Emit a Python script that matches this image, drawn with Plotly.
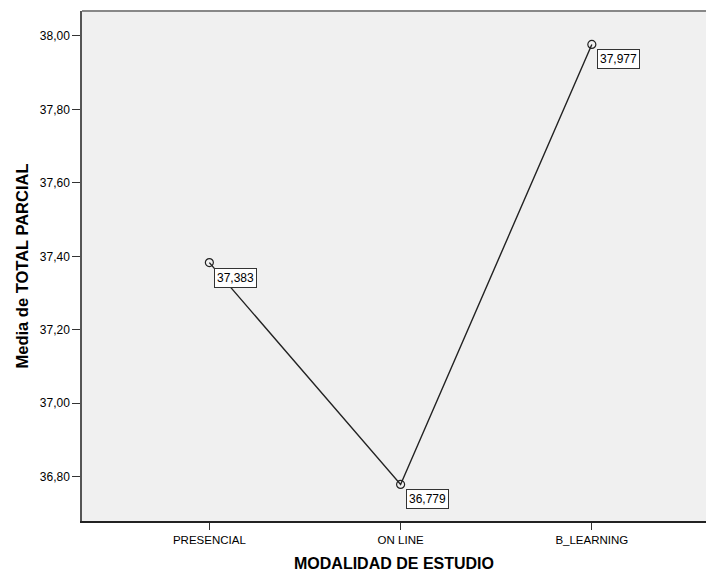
import plotly.graph_objects as go

categories = ["PRESENCIAL", "ON LINE", "B_LEARNING"]
means = [37.383, 36.779, 37.977]
labels = ["37,383", "36,779", "37,977"]
y_ticks = [36.80, 37.00, 37.20, 37.40, 37.60, 37.80, 38.00]

FONT = "Liberation Sans, Arial, sans-serif"

fig = go.Figure()
fig.add_trace(go.Scatter(
    x=[0, 1, 2], y=means, mode="lines+markers",
    line=dict(color="#222222", width=1.4),
    marker=dict(symbol="circle-open", size=8, color="#222222", line=dict(width=1.2)),
    hoverinfo="skip", showlegend=False,
))

for i, (v, t) in enumerate(zip(means, labels)):
    fig.add_annotation(
        x=i, y=v, text=t, showarrow=False,
        xanchor="left", yanchor="top", xshift=5, yshift=-5,
        bgcolor="white", bordercolor="#333333", borderwidth=1, borderpad=2,
        font=dict(family=FONT, size=12, color="black"),
    )

fig.update_layout(
    width=706, height=573,
    margin=dict(l=82, r=0, t=11, b=52),
    paper_bgcolor="white", plot_bgcolor="#f0f0f0",
    separators=",.",
    font=dict(family=FONT, size=12, color="black"),
    xaxis=dict(
        range=[-0.666, 2.597], tickmode="array", tickvals=[0, 1, 2], ticktext=categories,
        ticks="outside", ticklen=7, tickcolor="#333333", showgrid=False, zeroline=False,
        showline=True, linecolor="#222222", linewidth=2,
        title=dict(text="<b>MODALIDAD DE ESTUDIO</b>", font=dict(size=16), standoff=13),
        tickfont=dict(size=11.5),
    ),
    yaxis=dict(
        range=[36.6795, 38.068], tickmode="array", tickvals=y_ticks, tickformat=".2f",
        ticks="outside", ticklen=8, tickcolor="#333333", showgrid=False, zeroline=False,
        showline=True, linecolor="#555555", linewidth=1.5,
        title=dict(text="<b>Media de TOTAL PARCIAL</b>", font=dict(size=16.5), standoff=7),
        tickfont=dict(size=12),
    ),
    shapes=[dict(type="line", xref="paper", yref="paper", x0=0, x1=1, y0=1, y1=1,
                 line=dict(color="#888888", width=2))],
)

fig.write_html(
    "out.html",
    config={"displayModeBar": False},
    post_script="document.body.style.margin='0';document.body.style.overflow='hidden';",
)
